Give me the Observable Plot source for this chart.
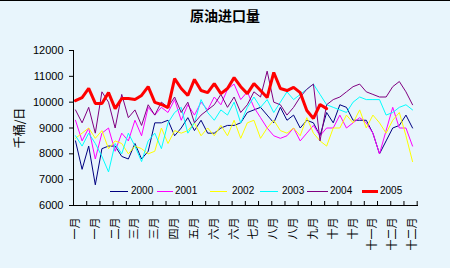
<!DOCTYPE html>
<html><head><meta charset="utf-8">
<script src="https://cdn.jsdelivr.net/npm/d3@7"></script>
<script src="https://cdn.jsdelivr.net/npm/@observablehq/plot@0.6"></script>
<style>
html,body{margin:0;padding:0;background:#E8F5FC;}
#wrap{position:relative;width:450px;height:267px;border-top:1px solid #000;overflow:hidden;background:#E8F5FC;}
#title{height:26px;padding-top:4px;line-height:26px;text-align:center;font:bold 14px "Noto Sans CJK SC",sans-serif;color:#000;}
#ylab{position:absolute;left:18px;top:127px;transform:translate(-50%,-50%) rotate(-90deg);font:12px "Noto Sans CJK SC",sans-serif;white-space:nowrap;color:#000;}
#legend{position:absolute;top:183px;left:0;width:450px;height:14px;font:10px "Liberation Sans",Arial,sans-serif;color:#000;}
.sw{position:absolute;top:7px;}
.lt{position:absolute;top:1px;line-height:12px;}
</style></head>
<body><div id="wrap"><div id="title">原油进口量</div><div id="ylab">千桶/日</div><div id="chart"></div><div id="legend"></div></div>
<script>
const years = ["2000","2001","2002","2003","2004","2005"];
const monthLabels = ["一月","一月","二月","三月","三月","四月","五月","六月","六月","七月","八月","八月","九月","十月","十月","十一月","十二月","十二月"];
const yTicks = [6000,7000,8000,9000,10000,11000,12000];
const s2000 = [8500,7400,8300,6800,8200,8300,8300,7900,7800,8400,7800,8100,9200,9200,9300,8700,9000,9400,8900,9300,8800,8800,9000,9100,9100,9200,9600,9700,9800,9500,9200,9800,9300,9500,9000,9300,9200,8700,9600,9200,9900,9800,9300,9300,9300,8800,8000,8500,9000,9100,9500,9000];
const s2001 = [9300,8500,9000,7800,8800,9000,8100,8800,8500,9300,8700,9800,9500,9800,9600,10100,9300,9900,9500,10000,9700,10200,9900,10500,10700,10100,10400,9800,9400,9000,8700,8600,8700,9000,8500,8800,9100,8700,9000,9000,9500,9000,9200,9400,9200,8800,8000,8900,9800,9000,9000,8300];
const s2002 = [8600,8800,9000,8600,8900,8200,8500,8400,8000,8300,8200,8000,8100,9000,8400,8900,8800,8900,9200,8700,9000,8700,9100,8700,9300,8600,9200,9300,8600,9000,9300,8900,8800,9000,8700,9400,8800,8500,8300,9000,9000,9500,9200,9700,9000,9500,9200,8800,9300,9600,8700,7700];
const s2003 = [8700,8300,8800,8400,7900,7300,8400,8000,8800,8300,7700,8500,8800,8200,9200,9600,9800,8800,9200,10100,9600,9300,9700,9500,10000,9200,9800,10200,9800,10100,9600,10000,10400,10100,10300,10500,10700,10300,9900,9800,9700,9600,10000,10200,10100,10100,10100,9500,9600,9800,9900,9700];
const s2004 = [9700,9200,9800,8800,10400,10000,9000,10300,9400,9700,9100,9900,9500,10000,9800,10200,9600,10000,9200,9500,9700,9900,10300,9800,10200,9600,9900,10400,10200,11200,10000,9900,9500,9800,10200,10500,10700,8500,9900,10100,10200,10400,10600,10700,10400,10300,10200,10200,10600,10800,10400,9900];
const s2005 = [10060,10180,10530,9950,9950,10370,9750,10140,10140,10100,10260,10600,9990,9910,9790,10910,10530,10260,10880,10450,10370,10720,10330,10530,10950,10600,10330,10720,10450,10180,11150,10530,10450,10570,10370,9680,9370,9910,9750];

const series = [s2000,s2001,s2002,s2003,s2004,s2005];
const colors = ["#000080","#FF00FF","#FFFF00","#00FFFF","#800080","#FF0000"];
const widths = [1,1,1,1,1,3];
const xDomain = [-0.3, 51.9];
const labelIdx = monthLabels.map((_, k) => k * 3);
const minorIdx = d3.range(1, 27).map(k => 2 * k - 0.3).filter(v => v < xDomain[1]);

const lineMarks = series.map((vals, s) => Plot.line(vals.map((v, i) => ({week: i, value: v})), {x: "week", y: "value", stroke: colors[s], strokeWidth: widths[s], strokeLinejoin: "miter"}));

const chart = Plot.plot({
  width: 450, height: 237,
  marginLeft: 73, marginRight: 32, marginTop: 19, marginBottom: 63,
  style: {background: "transparent", fontFamily: "Liberation Sans, Arial, sans-serif", fontSize: "11px", color: "#000"},
  x: {domain: xDomain},
  y: {domain: [yTicks[0], yTicks[yTicks.length - 1]]},
  marks: [
    ...lineMarks,
    Plot.ruleY([yTicks[0]], {stroke: "#000"}),
    Plot.ruleX([xDomain[0]], {stroke: "#000"}),
    Plot.axisY({ticks: yTicks, tickSize: 4, tickPadding: 6, label: null, tickFormat: d => String(d), fontSize: 11}),
    Plot.axisX({ticks: minorIdx, tickSize: -4, tickFormat: () => "", label: null}),
    Plot.axisX({ticks: labelIdx, tickSize: 0, tickPadding: 12, tickRotate: -90, label: null, tickFormat: i => monthLabels[Math.round(i / 3)], fontSize: 11, fontFamily: "Noto Sans CJK SC, sans-serif"})
  ]
});
document.getElementById("chart").appendChild(chart);

const legendPos = [[110,18,131],[157,16,175],[210,17,232],[260,18,282],[307,21,330],[362,16,380]];
const lg = document.getElementById("legend");
years.forEach((yr, s) => {
  const [lx, lw, tx] = legendPos[s];
  const sw = document.createElement("div");
  sw.className = "sw";
  sw.style.left = lx + "px"; sw.style.width = lw + "px";
  sw.style.borderTop = widths[s] + "px solid " + colors[s];
  sw.style.marginTop = (-Math.floor(widths[s] / 2)) + "px";
  lg.appendChild(sw);
  const t = document.createElement("div");
  t.className = "lt"; t.style.left = tx + "px"; t.textContent = yr;
  lg.appendChild(t);
});
</script></body></html>
